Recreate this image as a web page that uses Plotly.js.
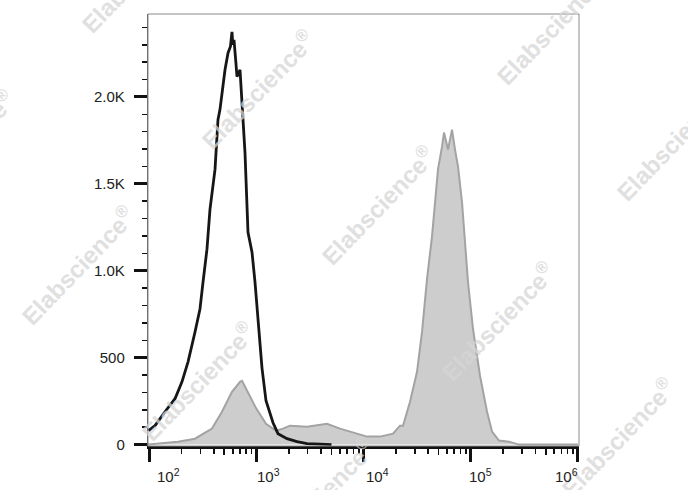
<!DOCTYPE html>
<html>
<head>
<meta charset="utf-8">
<script src="https://cdn.plot.ly/plotly-3.0.1.min.js"></script>
<style>html,body{margin:0;padding:0;background:#fff;}#chart{width:688px;height:490px;}</style>
</head>
<body>
<div id="chart"></div>
<script>
// ---- Data ----
// Black open histogram (control)
const blackX = [98, 112.6, 139.5, 173, 201, 229, 266, 296, 316, 344, 367, 409, 436, 455, 507, 541, 570, 589, 600, 615, 640, 656, 700, 746, 779, 831, 906, 966, 1031, 1123, 1224, 1423, 1584, 1922, 2383, 2955, 3908, 5000];
const blackY = [80, 109, 189, 264, 361, 476, 648, 780, 935, 1124, 1353, 1583, 1869, 1927, 2156, 2253, 2290, 2374, 2300, 2328, 2200, 2116, 2156, 1886, 1680, 1221, 1107, 935, 705, 440, 252, 126, 63, 34, 17, 6, 3, 0];
// Grey filled histogram (stained)
const greyX = [97, 184.5, 266, 383, 475, 589, 700, 731, 831, 987, 1224, 1518, 1764, 2051, 2955, 4543, 6006, 8658, 10735, 14199, 18774, 21825, 23278, 27058, 31452, 35020, 37348, 38992, 43418, 46306, 49385, 53828, 56195, 61235, 66741, 71183, 75922, 82781, 88250, 94146, 104840, 121866, 141654, 157771, 183327, 227300, 281800, 1000000];
const greyY = [0, 17, 34, 92, 189, 304, 361, 367, 300, 210, 120, 80, 92, 109, 103, 120, 92, 63, 46, 46, 63, 109, 109, 246, 419, 648, 854, 952, 1198, 1411, 1583, 1714, 1795, 1697, 1812, 1697, 1600, 1393, 1141, 934, 665, 396, 189, 75, 23, 17, 0, 0];
// Axis ticks
const xTickExps = [2, 3, 4, 5, 6];
const yTickVals = [0, 500, 1000, 1500, 2000];
const yTickText = ['0', '500', '1.0K', '1.5K', '2.0K'];
const watermarkText = 'Elabscience';

// ---- Build ----
const FONT = 'Arial, "Liberation Sans", sans-serif';
const majorX = xTickExps.map(e => Math.pow(10, e));
const minorX = [], midX = [];
for (let e = 1; e <= 6; e++) {
  for (let m = 2; m <= 9; m++) {
    const v = m * Math.pow(10, e);
    minorX.push(v);
    if (m === 5) midX.push(v);
  }
}
const yMinor = [];
for (let v = 100; v <= 2400; v += 100) if (v % 500 !== 0) yMinor.push(v);

const L = 148, R = 579, T = 14, B = 446, W = 688, H = 490;
const xr = [1.986, 6.01];

const traces = [
  {x: greyX, y: greyY, type: 'scatter', mode: 'lines', fill: 'tozeroy',
   fillcolor: '#cdcdcd', line: {color: '#a3a3a3', width: 2}, hoverinfo: 'skip', showlegend: false},
  {x: blackX, y: blackY, type: 'scatter', mode: 'lines',
   line: {color: '#161616', width: 2.8}, hoverinfo: 'skip', showlegend: false},
  {x: [1e3], y: [0], xaxis: 'x2', type: 'scatter', mode: 'markers', marker: {opacity: 0}, hoverinfo: 'skip', showlegend: false}
];

// watermark centres (pixels)
const wm = [[138,-27],[258,89],[378,205],[498,321],[618,437],[-42,149],[78,265],[198,381],[318,497],[553,25],[673,141]];
const annotations = wm.map(p => ({
  text: '<b>' + watermarkText + '<sup>®</sup></b>', xref: 'paper', yref: 'paper',
  x: (p[0] - L) / (R - L), y: (B - p[1]) / (B - T), xanchor: 'center', yanchor: 'middle',
  textangle: -46, showarrow: false, opacity: 0.75,
  font: {family: FONT, size: 24, color: '#d6d6d6'}
}));
const labelShift = [19, 12, 14, 10, -11];
xTickExps.forEach((e, i) => {
  annotations.push({
    text: '10<sup>' + e + '</sup>', xref: 'x', yref: 'paper', x: e, y: 0,
    xanchor: 'center', yanchor: 'top', xshift: labelShift[i], yshift: -18,
    showarrow: false, font: {family: FONT, size: 15, color: '#222'}
  });
});

const layout = {
  width: W, height: H,
  margin: {l: L, r: W - R, t: T, b: H - B, pad: 0},
  paper_bgcolor: '#fff', plot_bgcolor: '#fff',
  showlegend: false,
  xaxis: {
    type: 'log', range: xr, showgrid: false, zeroline: false,
    showline: true, linecolor: '#111', linewidth: 2.5,
    ticks: 'outside', tickmode: 'array', tickvals: majorX, ticklen: 13, tickwidth: 3, tickcolor: '#111',
    showticklabels: false,
    minor: {tickmode: 'array', tickvals: minorX, ticks: 'outside', ticklen: 5, tickwidth: 1.5, tickcolor: '#111', showgrid: false}
  },
  xaxis2: {
    type: 'log', range: xr, overlaying: 'x', anchor: 'y', side: 'bottom',
    showgrid: false, zeroline: false, showline: false,
    ticks: 'outside', tickmode: 'array', tickvals: midX, ticklen: 8, tickwidth: 1.8, tickcolor: '#111',
    showticklabels: false
  },
  yaxis: {
    range: [-8, 2477], showgrid: false, zeroline: false,
    showline: true, linecolor: '#555', linewidth: 1.2,
    ticks: 'outside', tickmode: 'array', tickvals: yTickVals, ticktext: yTickText,
    ticklen: 13, tickwidth: 3, tickcolor: '#111',
    tickfont: {family: FONT, size: 15, color: '#222'}, ticklabelstandoff: 6,
    minor: {tickmode: 'array', tickvals: yMinor, ticks: 'outside', ticklen: 5, tickwidth: 1.5, tickcolor: '#111', showgrid: false}
  },
  shapes: [{type: 'rect', xref: 'paper', yref: 'paper', x0: 0, x1: 1, y0: 0, y1: 1,
            line: {color: '#8a8a8a', width: 1}, layer: 'above'}],
  annotations: annotations
};

Plotly.newPlot('chart', traces, layout, {staticPlot: true, displayModeBar: false});
</script>
</body>
</html>
